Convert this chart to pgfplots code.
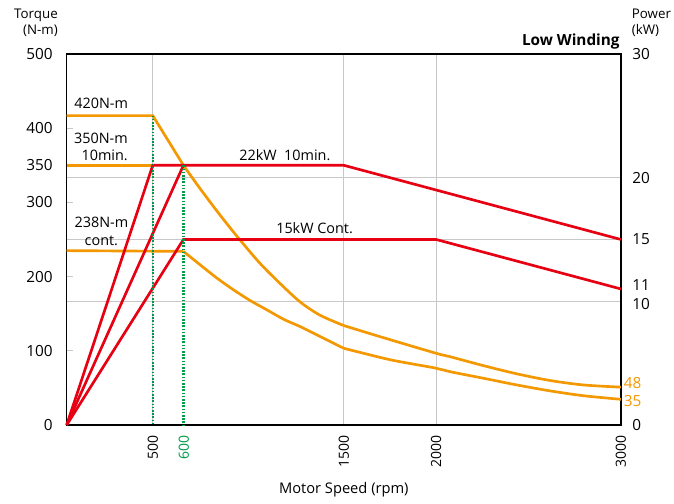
\documentclass[border=0pt]{standalone}
\usepackage{fontspec}
\setmainfont{Open Sans}
\usepackage{pgfplots}
\pgfplotsset{compat=1.18}
\definecolor{cOrange}{RGB}{243,152,0}
\definecolor{cRed}{RGB}{230,0,18}
\definecolor{cGreen}{RGB}{0,155,70}
\definecolor{cGrid}{RGB}{200,200,200}
\newcommand{\tickfont}{\fontsize{11.5}{13}\selectfont}
\newcommand{\xtickfont}{\fontsize{10.5}{12}\selectfont}
\newcommand{\lblfont}{\fontsize{10.8}{13}\selectfont}
\newcommand{\titfont}{\fontsize{10}{12}\selectfont}
\pgfplotsset{
  base/.style={at={(0,0)}, anchor=origin, width=415.7pt, height=278.25pt,
    scale only axis, xmin=0, xmax=3000, clip=false}
}
\begin{document}
\begin{tikzpicture}
\useasboundingbox (-50pt,-58.5pt) rectangle (455.5pt,318.75pt);
% grid
\begin{axis}[base, ymin=0, ymax=30,
  xtick={466,1500,2000}, ytick={10,15,20},
  xticklabels={}, yticklabels={},
  major tick length=0pt,
  xmajorgrids, ymajorgrids,
  major grid style={cGrid, line width=1pt},
  axis line style={draw=none}]
\end{axis}
% torque axis
\begin{axis}[base, ymin=0, ymax=500,
  axis line style={black, line width=1pt},
  xtick={466,634,1500,2000,3000},
  xticklabels={500,\textcolor{cGreen}{600},1500,2000,3000},
  xtick style={draw=none},
  xticklabel style={rotate=90, anchor=east, font=\xtickfont},
  xticklabel shift=4pt,
  ytick={0,100,200,300,350,400,500},
  ytick pos=left, xtick pos=bottom,
  ytick style={cGrid, line width=1pt},
  major tick length=5pt, tick align=inside,
  yticklabel style={font=\tickfont},
  yticklabel shift=7pt,
  /pgf/number format/assume math mode=true,
  xlabel={Motor Speed (rpm)},
  xlabel style={at={(rel axis cs:0.5,0)}, anchor=base, yshift=-51.2pt, font=\fontsize{11}{13}\selectfont}]
% 420 N-m (10 min peak)
\addplot[cOrange, line width=2pt] coordinates {(0,417) (466,417) (632,350)};
\addplot[cOrange, line width=2pt, smooth, tension=0.5] coordinates {
 (632,350) (721,319) (830,283) (934,250.7) (1046,218)
 (1154,191) (1263,166) (1371,148) (1500,134)};
\addplot[cOrange, line width=2pt, smooth, tension=0.5] coordinates {
 (1500,134) (1697,119) (1995,97) (2076,92) (2256,80) (2436,69)
 (2616,60) (2796,54) (3000,51)};
% 350 N-m (10 min)
\addplot[cOrange, line width=2pt] coordinates {(0,350) (466,350)};
% 238 N-m (cont.)
\addplot[cOrange, line width=2pt] coordinates {(0,235) (632,234)};
\addplot[cOrange, line width=2pt, smooth, tension=0.5] coordinates {
 (632,234) (724,215.6) (815,197.7) (904,182) (995,167.5)
 (1085,155) (1175,142.4) (1265,132.5) (1355,121.3) (1500,103.4)};
\addplot[cOrange, line width=2pt, smooth, tension=0.5] coordinates {
 (1500,103.4) (1750,88) (1995,76.8) (2076,71.8) (2256,63) (2436,54)
 (2616,46) (2796,39.5) (3000,34.6)};
\end{axis}
% power axis
\begin{axis}[base, ymin=0, ymax=30,
  axis x line=none, axis y line*=right,
  axis line style={draw=none},
  ytick={0,10,11,15,20,30},
  yticklabels={0,,,15,20,30},
  major tick length=0pt,
  yticklabel style={font=\tickfont},
  yticklabel shift=5pt,
  /pgf/number format/assume math mode=true]
\addplot[cRed, line width=2pt] coordinates {(0,0) (466,21) (632,21) (1500,21) (3000,15)};
\addplot[cRed, line width=2pt] coordinates {(0,0) (632,21)};
\addplot[cRed, line width=2pt] coordinates {(0,0) (632,15) (2000,15) (3000,11)};
\node[anchor=west, font=\tickfont, xshift=5pt] at (axis cs:3000,11.3) {11};
\node[anchor=west, font=\tickfont, xshift=5pt] at (axis cs:3000,9.75) {10};
\end{axis}
% green markers and annotations
\begin{axis}[base, ymin=0, ymax=500, hide axis]
\addplot[cGreen, line width=1.6pt, dash pattern=on 1.2pt off 1.2pt] coordinates {(466,417) (466,0)};
\addplot[cGreen, line width=1.6pt, dash pattern=on 1.2pt off 1.2pt] coordinates {(632,350) (632,0)};
\begin{scope}[every node/.append style={inner sep=0pt}]
\node[anchor=west, font=\lblfont] at (axis cs:40,433) {420N-m};
\node[anchor=east, align=right, font=\lblfont] at (axis cs:332,375) {350N-m\\10min.};
\node[align=center, font=\lblfont] at (axis cs:188,261) {238N-m\\cont.};
\node[anchor=west, font=\lblfont] at (axis cs:933,364) {22kW\ \ 10min.};
\node[anchor=west, font=\lblfont] at (axis cs:1133,265.5) {15kW Cont.};
\node[anchor=west, xshift=2pt, text=cOrange, font=\tickfont] at (axis cs:3000,57) {48};
\node[anchor=west, xshift=2pt, text=cOrange, font=\tickfont] at (axis cs:3000,32.3) {35};
\node[anchor=east, align=right, font=\titfont, xshift=-6.5pt, yshift=23.25pt] at (rel axis cs:0,1) {Torque\\(N-m)};
\node[anchor=west, align=left, font=\titfont, xshift=8pt, yshift=23.25pt] at (rel axis cs:1,1) {Power\\(kW)};
\node[anchor=base east, font=\bfseries\fontsize{11.5}{13}\selectfont, xshift=-0.75pt, yshift=6.2pt] at (rel axis cs:1,1) {Low Winding};
\end{scope}
\end{axis}
\end{tikzpicture}
\end{document}
